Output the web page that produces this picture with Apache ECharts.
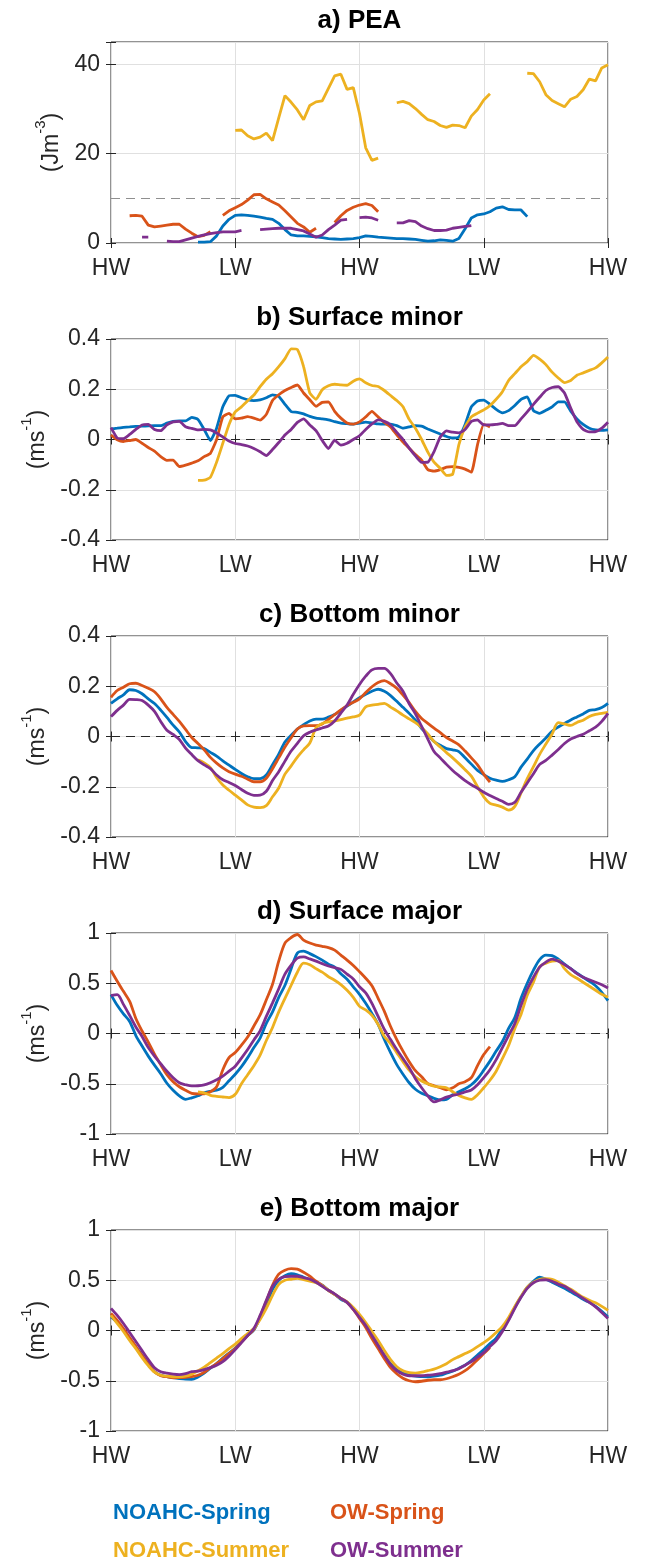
<!DOCTYPE html>
<html>
<head>
<meta charset="utf-8">
<title>Tidal cycle composites</title>
<script src="https://cdn.jsdelivr.net/npm/echarts/dist/echarts.min.js"></script>
<style>
    html, body { margin: 0; padding: 0; background: #fff; }
    #chart { width: 647px; height: 1562px; }
</style>
</head>
<body>
<div id="chart"></div>
<script>
// samples every 1/20 of a HW-LW interval, 81 samples over HW-LW-HW-LW-HW
const STEP = 0.05
const tideLabels = ['HW', 'LW', 'HW', 'LW', 'HW']
const seriesNames = ['NOAHC-Spring', 'OW-Spring', 'NOAHC-Summer', 'OW-Summer']

// a) PEA (J m-3)
const peaNoahcSpring = [
    null, null, null, null, null, null, null, null, null, null,
    null, null, null, null, 0.2, 0.2, 0.3, 1.6, 3.8, 5.3,
    6.2, 6.3, 6.2, 6.0, 5.8, 5.5, 5.3, 4.4, 3.0, 1.8,
    1.6, 1.6, 1.5, 1.4, 1.2, 1.0, 0.9, 0.8, 0.9, 1.0,
    1.2, 1.6, 1.5, 1.3, 1.2, 1.1, 1.0, 1.0, 0.9, 0.8,
    0.6, 0.4, 0.5, 0.7, 0.6, 0.4, 1.0, 3.2, 5.6, 6.3,
    6.5, 7.0, 7.8, 8.1, 7.5, 7.4, 7.4, 5.9, null, null,
    null, null, null, null, null, null, null, null, null, null,
    null
]
const peaOwSpring = [
    null, null, null, 6.1, 6.2, 6.0, 4.0, 3.6, 3.8, 4.0,
    4.2, 4.2, 3.1, 2.2, 1.4, 1.7, 2.5, null, 6.2, 7.2,
    7.9, 8.6, 9.6, 10.8, 10.9, 9.9, 9.2, 8.5, 7.2, 5.8,
    4.4, 3.6, 2.4, 3.3, null, null, 4.6, 6.1, 7.3, 8.0,
    8.5, 8.8, 8.4, 7.0, null, null, null, null, null, null,
    null, null, null, null, null, null, null, null, null, null,
    null, null, null, null, null, null, null, null, null, null,
    null, null, null, null, null, null, null, null, null, null,
    null
]
const peaNoahcSummer = [
    null, null, null, null, null, null, null, null, null, null,
    null, null, null, null, null, null, null, null, null, null,
    25.2, 25.3, 24.0, 23.3, 23.7, 24.6, 22.9, 28.0, 33.0, 31.5,
    29.8, 27.6, 30.8, 31.6, 31.8, 34.6, 37.4, 37.8, 34.4, 34.8,
    29.0, 21.3, 18.5, 19.0, null, null, 31.4, 31.7, 31.2, 30.1,
    28.8, 27.6, 27.2, 26.3, 25.9, 26.4, 26.3, 25.8, 28.4, 29.9,
    32.0, 33.4, null, null, null, null, null, 38.0, 37.9, 36.1,
    33.2, 31.9, 31.2, 30.5, 32.2, 32.8, 34.3, 36.7, 36.3, 39.2,
    39.9
]
const peaOwSummer = [
    null, null, null, null, null, 1.3, 1.3, null, null, 0.4,
    0.3, 0.3, 0.7, 1.1, 1.5, 1.8, 2.1, 2.3, 2.5, 2.5,
    2.5, 2.8, null, null, 3.0, 3.1, 3.2, 3.3, 3.3, 3.3,
    3.0, 2.7, 2.0, 1.3, 1.8, 3.0, 4.0, 5.1, 5.3, null,
    5.7, 5.8, 5.6, 5.1, null, null, 4.5, 4.5, 5.0, 4.8,
    3.8, 3.2, 2.8, 2.8, 2.9, 3.3, 3.5, 3.7, 3.9, null,
    null, null, null, null, null, null, null, null, null, null,
    null, null, null, null, null, null, null, null, null, null,
    null
]

// b) Surface minor (m s-1)
const surfMinorNoahcSpring = [
    0.042, 0.045, 0.048, 0.050, 0.052, 0.053, 0.054, 0.055, 0.055, 0.065,
    0.072, 0.074, 0.074, 0.088, 0.080, 0.040, -0.004, 0.045, 0.130, 0.174,
    0.176, 0.166, 0.158, 0.155, 0.158, 0.166, 0.178, 0.172, 0.140, 0.111,
    0.108, 0.102, 0.092, 0.085, 0.082, 0.078, 0.071, 0.065, 0.063, 0.061,
    0.065, 0.069, 0.066, 0.062, 0.061, 0.061, 0.055, 0.045, 0.050, 0.055,
    0.053, 0.042, 0.032, 0.022, 0.012, 0.006, 0.010, 0.060, 0.130, 0.153,
    0.157, 0.140, 0.120, 0.106, 0.115, 0.135, 0.160, 0.170, 0.115, 0.104,
    0.116, 0.130, 0.150, 0.150, 0.113, 0.082, 0.060, 0.045, 0.038, 0.036,
    0.038
]
const surfMinorOwSpring = [
    0.018, -0.001, -0.008, -0.004, 0.000, -0.015, -0.032, -0.046, -0.068, -0.083,
    -0.082, -0.108, -0.102, -0.094, -0.085, -0.068, -0.055, 0.000, 0.090, 0.104,
    0.082, 0.085, 0.091, 0.085, 0.077, 0.100, 0.155, 0.178, 0.195, 0.207,
    0.217, 0.185, 0.158, 0.132, 0.148, 0.150, 0.112, 0.085, 0.066, 0.061,
    0.070, 0.090, 0.112, 0.090, 0.068, 0.050, 0.018, -0.010, -0.035, -0.060,
    -0.082, -0.120, -0.126, -0.120, -0.110, -0.108, -0.111, -0.118, -0.130, -0.020,
    0.060, 0.050, null, null, null, null, null, null, null, null,
    null, null, null, null, null, null, null, null, null, null,
    null
]
const surfMinorNoahcSummer = [
    null, null, null, null, null, null, null, null, null, null,
    null, null, null, null, -0.163, -0.162, -0.150, -0.090, -0.015, 0.060,
    0.110, 0.130, 0.154, 0.177, 0.210, 0.240, 0.262, 0.290, 0.322, 0.361,
    0.358, 0.290, 0.185, 0.160, 0.198, 0.214, 0.220, 0.217, 0.216, 0.232,
    0.241, 0.226, 0.215, 0.211, 0.195, 0.175, 0.155, 0.130, 0.080, 0.045,
    0.000, -0.050, -0.090, -0.115, -0.143, -0.138, -0.020, 0.050, 0.090, 0.105,
    0.118, 0.135, 0.160, 0.190, 0.235, 0.262, 0.290, 0.310, 0.335, 0.320,
    0.298, 0.268, 0.245, 0.226, 0.235, 0.256, 0.265, 0.275, 0.285, 0.305,
    0.328
]
const surfMinorOwSummer = [
    0.047, 0.006, 0.003, 0.020, 0.040, 0.058, 0.060, 0.040, 0.035, 0.058,
    0.070, 0.072, 0.051, 0.044, 0.038, 0.040, 0.038, 0.026, 0.010, -0.006,
    -0.016, -0.020, -0.026, -0.036, -0.049, -0.064, -0.040, -0.012, 0.018, 0.040,
    0.068, 0.082, 0.058, 0.035, -0.004, -0.036, -0.003, -0.022, -0.015, 0.000,
    0.015, 0.040, 0.062, 0.078, 0.072, 0.058, 0.028, 0.000, -0.034, -0.065,
    -0.091, -0.090, -0.048, 0.010, 0.034, 0.029, 0.026, 0.040, 0.072, 0.078,
    0.058, 0.058, 0.060, 0.064, 0.055, 0.055, 0.082, 0.110, 0.140, 0.168,
    0.195, 0.207, 0.210, 0.185, 0.125, 0.070, 0.040, 0.030, 0.031, 0.045,
    0.069
]

// c) Bottom minor (m s-1)
const botMinorNoahcSpring = [
    0.132, 0.150, 0.166, 0.186, 0.183, 0.170, 0.150, 0.131, 0.105, 0.076,
    0.045, 0.018, -0.020, -0.044, -0.045, -0.048, -0.063, -0.078, -0.097, -0.114,
    -0.131, -0.147, -0.160, -0.168, -0.168, -0.153, -0.112, -0.070, -0.022, 0.005,
    0.030, 0.047, 0.062, 0.069, 0.069, 0.077, 0.088, 0.104, 0.121, 0.138,
    0.154, 0.168, 0.180, 0.188, 0.180, 0.163, 0.140, 0.116, 0.092, 0.065,
    0.032, 0.008, -0.020, -0.035, -0.048, -0.053, -0.060, -0.085, -0.110, -0.135,
    -0.152, -0.166, -0.174, -0.179, -0.172, -0.160, -0.122, -0.090, -0.056, -0.030,
    -0.006, 0.021, 0.038, 0.052, 0.066, 0.078, 0.090, 0.104, 0.107, 0.115,
    0.132
]
const botMinorOwSpring = [
    0.156, 0.183, 0.196, 0.210, 0.212, 0.203, 0.192, 0.178, 0.150, 0.116,
    0.088, 0.060, 0.028, -0.004, -0.028, -0.053, -0.083, -0.106, -0.125, -0.140,
    -0.150, -0.158, -0.170, -0.180, -0.180, -0.166, -0.128, -0.085, -0.042, -0.005,
    0.030, 0.042, 0.043, 0.043, 0.050, 0.068, 0.087, 0.106, 0.123, 0.136,
    0.150, 0.175, 0.198, 0.215, 0.222, 0.210, 0.192, 0.165, 0.135, 0.100,
    0.072, 0.052, 0.033, 0.015, -0.004, -0.018, -0.033, -0.058, -0.085, -0.113,
    -0.150, -0.182, null, null, null, null, null, null, null, null,
    null, null, null, null, null, null, null, null, null, null,
    null
]
const botMinorNoahcSummer = [
    null, null, null, null, null, null, null, null, null, null,
    null, null, null, null, -0.093, -0.105, -0.124, -0.163, -0.193, -0.214,
    -0.233, -0.252, -0.272, -0.281, -0.283, -0.275, -0.240, -0.205, -0.150, -0.117,
    -0.082, -0.053, -0.026, 0.035, 0.052, 0.058, 0.062, 0.067, 0.073, 0.078,
    0.085, 0.118, 0.125, 0.128, 0.132, 0.117, 0.102, 0.085, 0.070, 0.055,
    0.036, 0.010, -0.020, -0.042, -0.064, -0.085, -0.108, -0.132, -0.158, -0.200,
    -0.240, -0.266, -0.273, -0.281, -0.293, -0.278, -0.225, -0.168, -0.120, -0.071,
    -0.030, 0.010, 0.055, 0.050, 0.044, 0.056, 0.065, 0.080, 0.088, 0.092,
    0.096
]
const botMinorOwSummer = [
    0.079, 0.104, 0.125, 0.148, 0.147, 0.143, 0.125, 0.100, 0.060, 0.025,
    0.008, -0.012, -0.046, -0.072, -0.096, -0.113, -0.128, -0.153, -0.172, -0.183,
    -0.195, -0.211, -0.226, -0.234, -0.233, -0.218, -0.175, -0.140, -0.098, -0.058,
    -0.027, 0.003, 0.017, 0.026, 0.034, 0.042, 0.062, 0.093, 0.125, 0.168,
    0.207, 0.240, 0.265, 0.271, 0.271, 0.250, 0.213, 0.180, 0.130, 0.090,
    0.040, -0.010, -0.060, -0.085, -0.111, -0.135, -0.156, -0.176, -0.192, -0.206,
    -0.222, -0.235, -0.247, -0.258, -0.270, -0.262, -0.222, -0.185, -0.148, -0.111,
    -0.095, -0.074, -0.052, -0.028, -0.010, 0.000, 0.009, 0.023, 0.037, 0.060,
    0.092
]

// d) Surface major (m s-1)
const surfMajorNoahcSpring = [
    0.387, 0.280, 0.195, 0.120, -0.020, -0.125, -0.225, -0.315, -0.400, -0.495,
    -0.565, -0.620, -0.655, -0.640, -0.620, -0.590, -0.575, -0.565, -0.535, -0.470,
    -0.405, -0.330, -0.240, -0.140, -0.045, 0.100, 0.215, 0.360, 0.480, 0.645,
    0.800, 0.820, 0.795, 0.765, 0.730, 0.690, 0.660, 0.595, 0.540, 0.465,
    0.390, 0.300, 0.200, 0.090, -0.060, -0.190, -0.310, -0.405, -0.490, -0.555,
    -0.595, -0.620, -0.645, -0.660, -0.655, -0.610, -0.580, -0.550, -0.510, -0.450,
    -0.365, -0.275, -0.175, -0.080, 0.050, 0.160, 0.350, 0.500, 0.630, 0.735,
    0.780, 0.775, 0.740, 0.690, 0.645, 0.600, 0.560, 0.520, 0.475, 0.410,
    0.327
]
const surfMajorOwSpring = [
    0.627, 0.520, 0.420, 0.320, 0.150, 0.025, -0.085, -0.205, -0.310, -0.410,
    -0.480, -0.530, -0.565, -0.595, -0.600, -0.600, -0.580, -0.530, -0.360, -0.240,
    -0.190, -0.115, -0.035, 0.075, 0.185, 0.335, 0.490, 0.720, 0.900, 0.955,
    0.985, 0.930, 0.900, 0.880, 0.868, 0.855, 0.830, 0.780, 0.730, 0.677,
    0.615, 0.550, 0.475, 0.350, 0.220, 0.070, -0.060, -0.175, -0.280, -0.370,
    -0.430, -0.500, -0.520, -0.540, -0.560, -0.540, -0.500, -0.480, -0.440, -0.320,
    -0.210, -0.130, null, null, null, null, null, null, null, null,
    null, null, null, null, null, null, null, null, null, null,
    null
]
const surfMajorNoahcSummer = [
    null, null, null, null, null, null, null, null, null, null,
    null, null, null, null, -0.580, -0.590, -0.615, -0.625, -0.632, -0.638,
    -0.605, -0.500, -0.410, -0.320, -0.215, -0.070, 0.060, 0.215, 0.350, 0.480,
    0.610, 0.700, 0.685, 0.645, 0.610, 0.565, 0.530, 0.487, 0.430, 0.360,
    0.270, 0.235, 0.180, 0.090, -0.030, -0.100, -0.190, -0.280, -0.365, -0.430,
    -0.473, -0.500, -0.525, -0.532, -0.540, -0.580, -0.617, -0.640, -0.655, -0.610,
    -0.540, -0.465, -0.375, -0.250, -0.120, 0.050, 0.190, 0.380, 0.510, 0.665,
    0.700, 0.720, 0.725, 0.645, 0.585, 0.550, 0.510, 0.470, 0.430, 0.390,
    0.360
]
const surfMajorOwSummer = [
    0.377, 0.387, 0.290, 0.180, 0.065, -0.030, -0.140, -0.225, -0.300, -0.375,
    -0.440, -0.490, -0.510, -0.522, -0.520, -0.512, -0.490, -0.460, -0.425, -0.375,
    -0.325, -0.245, -0.160, -0.065, 0.027, 0.170, 0.305, 0.445, 0.590, 0.680,
    0.750, 0.762, 0.742, 0.720, 0.695, 0.672, 0.655, 0.638, 0.590, 0.543,
    0.465, 0.405, 0.300, 0.170, 0.040, -0.060, -0.160, -0.250, -0.340, -0.450,
    -0.540, -0.620, -0.680, -0.660, -0.633, -0.617, -0.602, -0.582, -0.562, -0.510,
    -0.440, -0.360, -0.260, -0.140, -0.020, 0.100, 0.280, 0.440, 0.560, 0.660,
    0.710, 0.740, 0.720, 0.685, 0.645, 0.595, 0.560, 0.535, 0.510, 0.485,
    0.453
]

// e) Bottom major (m s-1)
const botMajorNoahcSpring = [
    0.134, 0.080, 0.010, -0.080, -0.165, -0.250, -0.335, -0.410, -0.445, -0.460,
    -0.470, -0.478, -0.484, -0.485, -0.462, -0.425, -0.375, -0.330, -0.275, -0.225,
    -0.175, -0.110, -0.050, 0.005, 0.125, 0.250, 0.410, 0.500, 0.545, 0.565,
    0.555, 0.530, 0.505, 0.480, 0.450, 0.400, 0.360, 0.310, 0.280, 0.220,
    0.140, 0.050, -0.050, -0.150, -0.250, -0.330, -0.390, -0.420, -0.445, -0.455,
    -0.458, -0.460, -0.455, -0.445, -0.425, -0.405, -0.375, -0.345, -0.300, -0.245,
    -0.190, -0.130, -0.075, 0.020, 0.110, 0.230, 0.335, 0.430, 0.490, 0.530,
    0.510, 0.480, 0.450, 0.420, 0.385, 0.350, 0.310, 0.280, 0.240, 0.190,
    0.134
]
const botMajorOwSpring = [
    0.170, 0.100, 0.020, -0.070, -0.160, -0.250, -0.335, -0.410, -0.450, -0.460,
    -0.470, -0.468, -0.465, -0.460, -0.445, -0.415, -0.370, -0.330, -0.280, -0.230,
    -0.180, -0.115, -0.050, 0.010, 0.140, 0.290, 0.450, 0.560, 0.600, 0.615,
    0.610, 0.580, 0.540, 0.490, 0.450, 0.400, 0.360, 0.320, 0.280, 0.210,
    0.120, 0.030, -0.080, -0.180, -0.280, -0.370, -0.430, -0.475, -0.500, -0.510,
    -0.505, -0.495, -0.490, -0.490, -0.480, -0.460, -0.435, -0.400, -0.350, -0.290,
    -0.230, -0.170, null, null, null, null, null, null, null, null,
    null, null, null, null, null, null, null, null, null, null,
    null
]
const botMajorNoahcSummer = [
    0.150, 0.070, -0.010, -0.100, -0.180, -0.270, -0.350, -0.415, -0.445, -0.455,
    -0.460, -0.462, -0.455, -0.435, -0.400, -0.365, -0.320, -0.275, -0.230, -0.180,
    -0.135, -0.080, -0.030, 0.020, 0.110, 0.220, 0.350, 0.460, 0.500, 0.510,
    0.520, 0.505, 0.490, 0.475, 0.445, 0.400, 0.360, 0.320, 0.285, 0.230,
    0.160, 0.080, -0.010, -0.100, -0.200, -0.290, -0.360, -0.400, -0.420, -0.425,
    -0.415, -0.400, -0.385, -0.360, -0.330, -0.290, -0.260, -0.230, -0.200, -0.160,
    -0.120, -0.075, -0.020, 0.040, 0.130, 0.240, 0.340, 0.430, 0.480, 0.510,
    0.515, 0.510, 0.480, 0.445, 0.410, 0.370, 0.330, 0.300, 0.275, 0.240,
    0.200
]
const botMajorOwSummer = [
    0.220, 0.150, 0.070, -0.020, -0.110, -0.200, -0.290, -0.370, -0.410, -0.425,
    -0.435, -0.440, -0.430, -0.410, -0.405, -0.390, -0.370, -0.345, -0.310, -0.255,
    -0.190, -0.120, -0.050, 0.020, 0.150, 0.300, 0.440, 0.510, 0.535, 0.540,
    0.540, 0.525, 0.510, 0.480, 0.440, 0.400, 0.365, 0.320, 0.280, 0.210,
    0.130, 0.050, -0.050, -0.150, -0.250, -0.340, -0.400, -0.435, -0.450, -0.450,
    -0.450, -0.445, -0.440, -0.430, -0.415, -0.400, -0.380, -0.345, -0.310, -0.265,
    -0.220, -0.160, -0.100, -0.010, 0.100, 0.220, 0.330, 0.420, 0.475, 0.500,
    0.505, 0.490, 0.460, 0.440, 0.400, 0.360, 0.320, 0.280, 0.235, 0.180,
    0.120
]

// ---- layout / style ----
const FONT = '"Liberation Sans", Arial, Helvetica, sans-serif'
const INK = '#262626'
const colors = ['#0072BD', '#D95319', '#EDB120', '#7E2F8E']
const GRID_LEFT = 111
const GRID_RIGHT = 39
const GRID_H = 201
const tops = [42, 339, 636, 933, 1230]
const plotCenterX = GRID_LEFT + (647 - GRID_LEFT - GRID_RIGHT) / 2

const panels = [
    { title: 'a) PEA', unit: 'Jm', exp: '-3', min: 0, max: 45, interval: 20, ticks: [0, 20, 40],
        refValue: 10, refColor: '#8f8f8f', nameGap: 47, smooth: false,
        lines: [peaNoahcSpring, peaOwSpring, peaNoahcSummer, peaOwSummer] },
    { title: 'b) Surface minor', unit: 'ms', exp: '-1', min: -0.4, max: 0.4, interval: 0.2, ticks: [-0.4, -0.2, 0, 0.2, 0.4],
        refValue: 0, refColor: '#262626', nameGap: 57, smooth: 0.15,
        lines: [surfMinorNoahcSpring, surfMinorOwSpring, surfMinorNoahcSummer, surfMinorOwSummer] },
    { title: 'c) Bottom minor', unit: 'ms', exp: '-1', min: -0.4, max: 0.4, interval: 0.2, ticks: [-0.4, -0.2, 0, 0.2, 0.4],
        refValue: 0, refColor: '#262626', nameGap: 57, smooth: 0.3,
        lines: [botMinorNoahcSpring, botMinorOwSpring, botMinorNoahcSummer, botMinorOwSummer] },
    { title: 'd) Surface major', unit: 'ms', exp: '-1', min: -1, max: 1, interval: 0.5, ticks: [-1, -0.5, 0, 0.5, 1],
        refValue: 0, refColor: '#262626', nameGap: 57, smooth: 0.3,
        lines: [surfMajorNoahcSpring, surfMajorOwSpring, surfMajorNoahcSummer, surfMajorOwSummer] },
    { title: 'e) Bottom major', unit: 'ms', exp: '-1', min: -1, max: 1, interval: 0.5, ticks: [-1, -0.5, 0, 0.5, 1],
        refValue: 0, refColor: '#262626', nameGap: 57, smooth: 0.3,
        lines: [botMajorNoahcSpring, botMajorOwSpring, botMajorNoahcSummer, botMajorOwSummer] }
]

// legend placement (text left edge, text centre y)
const legendSlots = [
    { x: 112, y: 1513 }, { x: 329, y: 1513 },
    { x: 112, y: 1551 }, { x: 329, y: 1551 }
]

const toPairs = (arr) => arr.map((v, i) => [i * STEP, v === null ? '-' : v])
const tickStyle = { inside: true, length: 5, lineStyle: { color: INK, width: 1 } }

const grid = []
const xAxis = []
const yAxis = []
const title = []
const series = []

panels.forEach((p, k) => {
    grid.push({
        left: GRID_LEFT, right: GRID_RIGHT, top: tops[k], height: GRID_H,
        show: true, borderColor: INK, borderWidth: 1, backgroundColor: '#fff'
    })
    title.push({
        text: p.title, left: plotCenterX, top: tops[k] - 34, padding: 0, textAlign: 'center',
        textStyle: { fontSize: 26, fontWeight: 'bold', color: '#000', fontFamily: FONT }
    })
    // bottom axis with labels, top axis only for the mirrored ticks
    xAxis.push({
        gridIndex: k, type: 'value', min: 0, max: 4, interval: 1, position: 'bottom',
        axisLine: { show: false }, axisTick: tickStyle,
        axisLabel: { margin: 14, fontSize: 23, color: INK, fontFamily: FONT, formatter: (v) => tideLabels[Math.round(v)] || '' },
        splitLine: { show: true, lineStyle: { color: '#e0e0e0', width: 1 } }
    })
    xAxis.push({
        gridIndex: k, type: 'value', min: 0, max: 4, interval: 1, position: 'top',
        axisLine: { show: false }, axisTick: tickStyle, axisLabel: { show: false }, splitLine: { show: false }
    })
    yAxis.push({
        gridIndex: k, type: 'value', min: p.min, max: p.max, interval: p.interval, position: 'left',
        name: '{n|(' + p.unit + '}{s|' + p.exp + '}{n|)}',
        nameLocation: 'middle', nameRotate: 90, nameGap: p.nameGap,
        nameTextStyle: {
            color: INK, fontFamily: FONT,
            rich: {
                n: { fontSize: 23, lineHeight: 30, verticalAlign: 'bottom', color: INK, fontFamily: FONT },
                s: { fontSize: 15, lineHeight: 16, verticalAlign: 'top', color: INK, fontFamily: FONT }
            }
        },
        axisLine: { show: false }, axisTick: tickStyle,
        axisLabel: {
            margin: 11, fontSize: 23, color: INK, fontFamily: FONT,
            formatter: (v) => {
                const hit = p.ticks.find(t => Math.abs(t - v) < 1e-9)
                return hit === undefined ? '' : String(hit)
            }
        },
        splitLine: { show: true, lineStyle: { color: '#e0e0e0', width: 1 } }
    })
    yAxis.push({
        gridIndex: k, type: 'value', min: p.min, max: p.max, interval: p.interval, position: 'right',
        axisLine: { show: false }, axisTick: tickStyle, axisLabel: { show: false }, splitLine: { show: false }
    })

    p.lines.forEach((line, j) => {
        const s = {
            name: seriesNames[j],
            type: 'line',
            xAxisIndex: k * 2,
            yAxisIndex: k * 2,
            data: toPairs(line),
            symbol: 'none',
            showSymbol: false,
            connectNulls: false,
            smooth: p.smooth,
            lineStyle: { color: colors[j], width: 2.8 },
            itemStyle: { color: colors[j] },
            silent: true,
            z: 3 + j
        }
        if (j === 0) {
            // dashed reference line, kept behind the curves
            s.markLine = {
                silent: true, symbol: 'none', z: 2, animation: false,
                label: { show: false },
                lineStyle: { color: p.refColor, type: [9, 6], width: 1 },
                data: [{ yAxis: p.refValue }]
            }
        }
        series.push(s)
    })
})

const legend = seriesNames.map((name, j) => ({
    left: legendSlots[j].x - 5,
    top: legendSlots[j].y - 11,
    padding: 0,
    itemWidth: 0,
    itemHeight: 0,
    selectedMode: false,
    data: [{ name, textStyle: { color: colors[j] } }],
    textStyle: { fontSize: 22, fontWeight: 'bold', fontFamily: FONT, color: colors[j] }
}))

const myChart = echarts.init(document.getElementById('chart'), null, { renderer: 'canvas' })
myChart.setOption({
    animation: false,
    backgroundColor: '#fff',
    textStyle: { fontFamily: FONT },
    title,
    legend,
    grid,
    xAxis,
    yAxis,
    series
})
</script>
</body>
</html>
